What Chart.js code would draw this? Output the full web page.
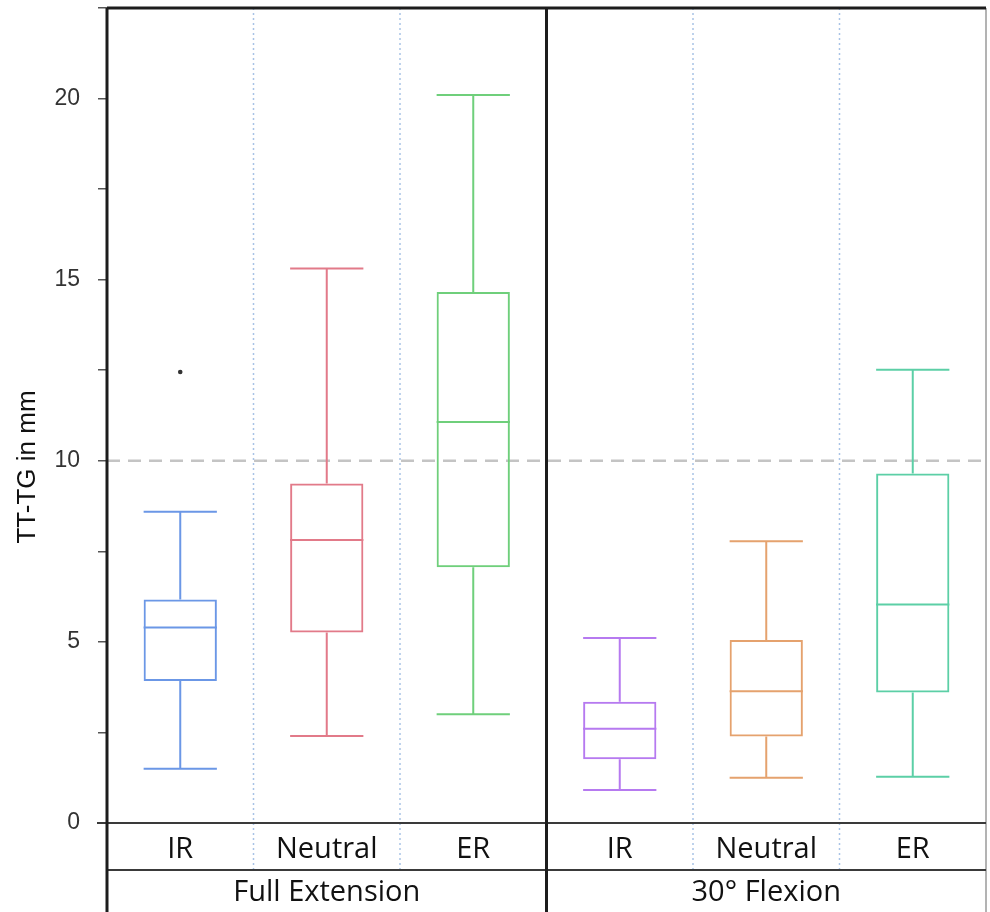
<!DOCTYPE html>
<html>
<head>
<meta charset="utf-8">
<title>TT-TG box plot</title>
<script src="https://cdn.jsdelivr.net/npm/chart.js@4.4.1/dist/chart.umd.min.js"></script>
<style>
    html, body { margin: 0; padding: 0; background: #fff; }
    #wrap { width: 990px; height: 912px; position: relative; }
</style>
</head>
<body>
<div id="wrap"><canvas id="boxChart"></canvas></div>
<script>
// Positions (sub-categories) and the two knee angles they belong to
const positions = ['IR', 'Neutral', 'ER', 'IR', 'Neutral', 'ER'];
const angles = ['Full Extension', '30° Flexion'];

// Box plot values, TT-TG in mm
const whiskerLow  = [1.50, 2.40, 3.00, 0.91, 1.25, 1.28];
const q1          = [3.92, 5.26, 7.06, 1.76, 2.39, 3.60];
const median      = [5.40, 7.81, 11.07, 2.60, 3.64, 6.03];
const q3          = [6.17, 9.37, 14.66, 3.35, 5.05, 9.65];
const whiskerHigh = [8.59, 15.31, 20.10, 5.11, 7.78, 12.51];
const outliers    = [12.45, null, null, null, null, null];

const referenceLine = 10;
const yTitle = 'TT-TG in mm';

const boxColors = ['#6b97e6', '#e27a89', '#6fcf7b', '#b67af0', '#e5a26e', '#5ccfa6'];

/**
 * Draws the pieces Chart.js has no box plot for:
 * reference line, separators, medians, whiskers and the frame
 */
const boxPlotPlugin = {
    id: 'boxPlot',
    beforeDatasetsDraw(chart) {
        const { ctx, chartArea, scales } = chart;
        const x = scales.x, y = scales.y;

        // dashed reference line at 10 mm
        const py = y.getPixelForValue(referenceLine);
        ctx.save();
        ctx.strokeStyle = '#c4c4c4';
        ctx.lineWidth = 2.5;
        ctx.setLineDash([13, 8]);
        ctx.beginPath();
        ctx.moveTo(chartArea.left, py);
        ctx.lineTo(chartArea.right, py);
        ctx.stroke();

        // dotted separators between positions (down through the label row)
        ctx.strokeStyle = '#a9c3e6';
        ctx.lineWidth = 1.5;
        ctx.setLineDash([2, 3]);
        for (let i = 1; i < positions.length; i++) {
            if (i === 3) continue; // group divider drawn solid later
            const bx = (x.getPixelForValue(i - 1) + x.getPixelForValue(i)) / 2;
            ctx.beginPath();
            ctx.moveTo(bx, chartArea.top);
            ctx.lineTo(bx, x.bottom);
            ctx.stroke();
        }
        ctx.restore();
    },
    afterDatasetsDraw(chart) {
        const { ctx, scales } = chart;
        const y = scales.y;
        const meta = chart.getDatasetMeta(0);

        ctx.save();
        ctx.lineWidth = 2;
        meta.data.forEach((bar, i) => {
            const half = bar.width / 2;
            const cx = bar.x;
            const yMed = y.getPixelForValue(median[i]);
            const yQ1 = y.getPixelForValue(q1[i]);
            const yQ3 = y.getPixelForValue(q3[i]);
            const yLo = y.getPixelForValue(whiskerLow[i]);
            const yHi = y.getPixelForValue(whiskerHigh[i]);

            ctx.strokeStyle = boxColors[i];
            ctx.beginPath();
            // median
            ctx.moveTo(cx - half, yMed);
            ctx.lineTo(cx + half, yMed);
            // whiskers
            ctx.moveTo(cx, yQ3);
            ctx.lineTo(cx, yHi);
            ctx.moveTo(cx, yQ1);
            ctx.lineTo(cx, yLo);
            // caps
            ctx.moveTo(cx - half, yHi);
            ctx.lineTo(cx + half, yHi);
            ctx.moveTo(cx - half, yLo);
            ctx.lineTo(cx + half, yLo);
            ctx.stroke();
        });
        ctx.restore();
    },
    afterDraw(chart) {
        const { ctx, chartArea, scales } = chart;
        const x = scales.x;
        const bottom = chart.height;
        const mid = (x.getPixelForValue(2) + x.getPixelForValue(3)) / 2;

        ctx.save();
        // light right border
        ctx.strokeStyle = '#9a9a9a';
        ctx.lineWidth = 1.5;
        ctx.beginPath();
        ctx.moveTo(chartArea.right, chartArea.top);
        ctx.lineTo(chartArea.right, bottom);
        ctx.stroke();

        // horizontal rules of the label table
        ctx.strokeStyle = '#3a3a3a';
        ctx.lineWidth = 2;
        ctx.beginPath();
        ctx.moveTo(chartArea.left - 10, chartArea.bottom);
        ctx.lineTo(chartArea.right, chartArea.bottom);
        ctx.moveTo(chartArea.left, x.bottom);
        ctx.lineTo(chartArea.right, x.bottom);
        ctx.stroke();

        // dark frame: top, left axis, group divider
        ctx.strokeStyle = '#1c1c1c';
        ctx.lineWidth = 3;
        ctx.beginPath();
        ctx.moveTo(chartArea.left, chartArea.top);
        ctx.lineTo(chartArea.right, chartArea.top);
        ctx.moveTo(chartArea.left, chartArea.top);
        ctx.lineTo(chartArea.left, bottom);
        ctx.moveTo(mid, chartArea.top);
        ctx.lineTo(mid, bottom);
        ctx.stroke();

        // y axis title, rotated
        ctx.fillStyle = '#111';
        ctx.font = '26px "Liberation Sans", Arial, sans-serif';
        ctx.textAlign = 'center';
        ctx.textBaseline = 'middle';
        ctx.translate(28, 467);
        ctx.rotate(-Math.PI / 2);
        ctx.fillText(yTitle, 0, 0);
        ctx.restore();
    }
};

const ctx = document.getElementById('boxChart');

new Chart(ctx, {
    type: 'bar',
    data: {
        labels: positions,
        datasets: [
            {
                // boxes as floating bars q1..q3
                data: q1.map((v, i) => [v, q3[i]]),
                backgroundColor: 'rgba(0,0,0,0)',
                borderColor: boxColors,
                borderWidth: 2,
                borderSkipped: false,
                barPercentage: 0.5,
                categoryPercentage: 1.0,
                xAxisID: 'x',
                yAxisID: 'y'
            },
            {
                type: 'line',
                data: outliers,
                showLine: false,
                pointRadius: 2.3,
                pointBorderWidth: 0,
                pointBackgroundColor: '#333',
                borderColor: '#333',
                xAxisID: 'x',
                yAxisID: 'y'
            }
        ]
    },
    options: {
        responsive: true,
        maintainAspectRatio: false,
        animation: false,
        layout: { padding: { top: 8, right: 2, left: 0, bottom: 0 } },
        plugins: {
            legend: { display: false },
            tooltip: { enabled: false }
        },
        scales: {
            y: {
                min: 0,
                max: 22.5,
                border: { display: false },
                grid: {
                    drawOnChartArea: false,
                    drawTicks: true,
                    tickLength: 9,
                    color: '#555',
                    lineWidth: 1.5
                },
                ticks: {
                    stepSize: 2.5,
                    autoSkip: false,
                    padding: 18,
                    color: '#333',
                    font: { family: '"Liberation Sans", Arial, sans-serif', size: 23 },
                    callback: v => (v % 5 === 0 ? v : '')
                },
                afterFit: scale => {
                    scale.width = 107;
                    // no extra room for the (empty) top tick label
                    scale.paddingTop = 0;
                    scale.paddingBottom = 0;
                }
            },
            x: {
                position: 'bottom',
                offset: true,
                border: { display: false },
                grid: { display: false, drawTicks: false },
                ticks: {
                    padding: 9,
                    color: '#111',
                    maxRotation: 0,
                    font: { family: '"Open Sans", sans-serif', size: 29 }
                },
                afterFit: scale => { scale.height = 47; }
            },
            x2: {
                type: 'category',
                position: 'bottom',
                labels: angles,
                offset: true,
                border: { display: false },
                grid: { display: false, drawTicks: false },
                ticks: {
                    padding: 5,
                    color: '#111',
                    maxRotation: 0,
                    font: { family: '"Open Sans", sans-serif', size: 29 }
                },
                afterFit: scale => { scale.height = 42; }
            }
        }
    },
    plugins: [boxPlotPlugin]
});
</script>
</body>
</html>
